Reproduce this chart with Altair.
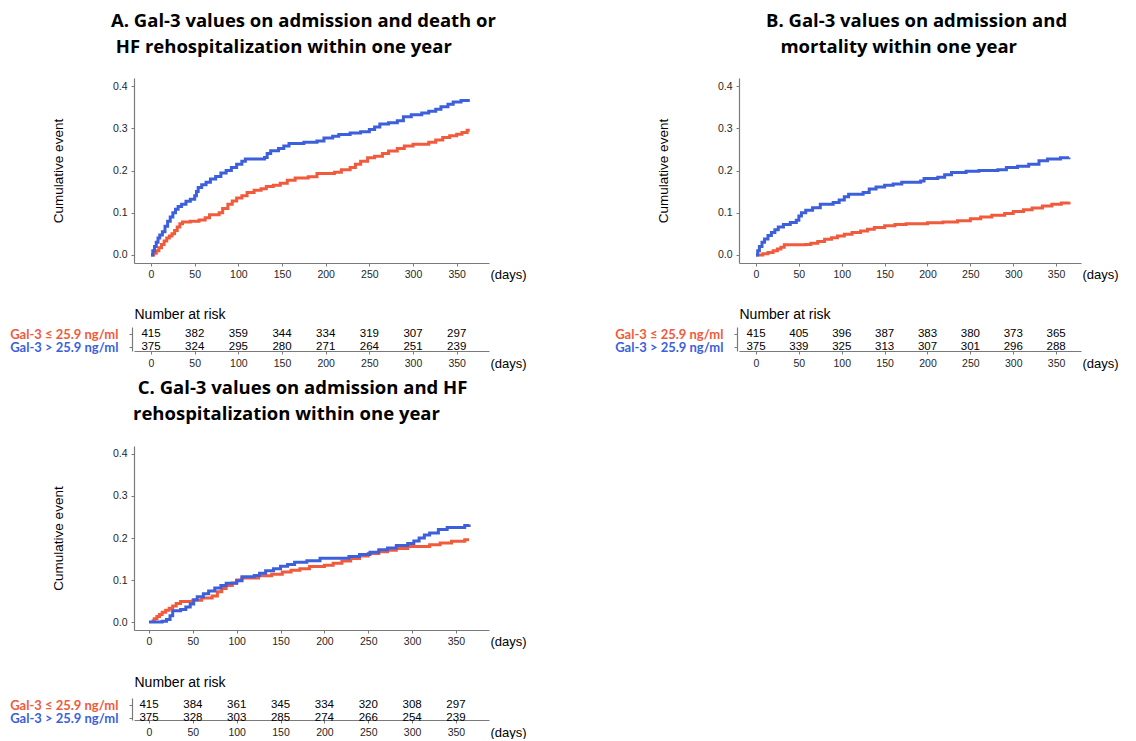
import altair as alt
import pandas as pd

LOW = "Gal-3 ≤ 25.9 ng/ml"
HIGH = "Gal-3 > 25.9 ng/ml"
RED = "#F25A3C"
BLUE = "#3C5FDB"
AX = "#7a7a7a"
SANS = "Liberation Sans"
LFONT = "Lato"
TFONT = "Open Sans"
IND = "\u200b\u00a0"  # indent that survives trimming

RISK_DAYS = [0, 50, 100, 150, 200, 250, 300, 350]
Y_TICKS = [0.0, 0.1, 0.2, 0.3, 0.4]

# ---------------- Panel A ----------------
A_TITLE = ["A. Gal-3 values on admission and death or",
           IND + "HF rehospitalization within one year"]
A_LOW_DAYS = [0, 3, 6, 9, 12, 15, 18, 21, 24, 27, 30, 33, 36, 45, 55, 62, 67, 78, 82, 88, 93, 98,
              104, 110, 118, 126, 132, 140, 148, 156, 165, 180, 190, 210, 218, 228, 234, 240, 248,
              256, 265, 272, 282, 290, 300, 318, 326, 334, 342, 350, 356, 362, 365]
A_LOW_CUM = [0, 0.004, 0.01, 0.017, 0.025, 0.033, 0.04, 0.045, 0.05, 0.058, 0.066, 0.074, 0.078,
             0.08, 0.083, 0.088, 0.095, 0.1, 0.11, 0.12, 0.128, 0.135, 0.14, 0.148, 0.153, 0.157,
             0.162, 0.165, 0.17, 0.177, 0.182, 0.185, 0.193, 0.196, 0.202, 0.207, 0.215, 0.222,
             0.23, 0.234, 0.24, 0.246, 0.252, 0.258, 0.262, 0.267, 0.272, 0.278, 0.282, 0.286,
             0.29, 0.295, 0.295]
A_HIGH_DAYS = [0, 2, 4, 6, 8, 10, 13, 16, 19, 22, 25, 28, 31, 35, 40, 45, 50, 52, 54, 58, 63, 68,
               74, 80, 86, 92, 98, 104, 108, 130, 133, 137, 146, 152, 158, 175, 190, 198, 208, 215,
               228, 240, 250, 256, 262, 272, 282, 289, 298, 310, 318, 326, 332, 340, 346, 355, 365]
A_HIGH_CUM = [0, 0.01, 0.02, 0.03, 0.04, 0.047, 0.055, 0.068, 0.08, 0.09, 0.1, 0.108, 0.115, 0.12,
              0.127, 0.132, 0.14, 0.15, 0.16, 0.166, 0.172, 0.18, 0.186, 0.194, 0.2, 0.207, 0.215,
              0.222, 0.227, 0.231, 0.24, 0.247, 0.252, 0.258, 0.264, 0.267, 0.27, 0.277, 0.281,
              0.285, 0.289, 0.292, 0.297, 0.303, 0.31, 0.313, 0.318, 0.327, 0.332, 0.336, 0.34,
              0.345, 0.351, 0.357, 0.362, 0.366, 0.366]
A_RISK_LOW = [415, 382, 359, 344, 334, 319, 307, 297]
A_RISK_HIGH = [375, 324, 295, 280, 271, 264, 251, 239]

# ---------------- Panel B ----------------
B_TITLE = ["B. Gal-3 values on admission and",
           IND + "\u00a0\u00a0mortality within one year"]
B_LOW_DAYS = [0, 8, 14, 20, 25, 29, 33, 58, 64, 72, 80, 88, 95, 103, 112, 122, 130, 138, 150, 162,
              175, 200, 218, 235, 250, 262, 275, 290, 300, 312, 322, 334, 345, 356, 365]
B_LOW_CUM = [0, 0.003, 0.006, 0.01, 0.014, 0.018, 0.024, 0.025, 0.028, 0.032, 0.037, 0.041, 0.045,
             0.049, 0.053, 0.057, 0.061, 0.065, 0.069, 0.072, 0.074, 0.076, 0.078, 0.081, 0.086,
             0.09, 0.094, 0.098, 0.103, 0.107, 0.111, 0.116, 0.12, 0.123, 0.126]
B_HIGH_DAYS = [0, 2, 4, 7, 10, 14, 18, 22, 26, 32, 40, 47, 50, 53, 58, 66, 75, 90, 97, 103, 108,
               125, 132, 140, 150, 160, 170, 192, 196, 212, 220, 228, 245, 260, 282, 292, 305, 318,
               330, 340, 355, 365]
B_HIGH_CUM = [0, 0.01, 0.02, 0.03, 0.038, 0.046, 0.053, 0.06, 0.066, 0.072, 0.077, 0.082, 0.092,
              0.1, 0.106, 0.112, 0.12, 0.124, 0.13, 0.138, 0.144, 0.148, 0.156, 0.161, 0.165,
              0.168, 0.172, 0.175, 0.181, 0.184, 0.19, 0.195, 0.198, 0.2, 0.202, 0.207, 0.21,
              0.215, 0.223, 0.227, 0.23, 0.231]
B_RISK_LOW = [415, 405, 396, 387, 383, 380, 373, 365]
B_RISK_HIGH = [375, 339, 325, 313, 307, 301, 296, 288]

# ---------------- Panel C ----------------
C_TITLE = [IND + "C. Gal-3 values on admission and HF",
           "rehospitalization within one year"]
C_LOW_DAYS = [3, 6, 9, 12, 15, 19, 23, 27, 31, 36, 50, 60, 72, 78, 83, 88, 95, 100, 106, 125, 140,
              152, 162, 172, 183, 200, 210, 220, 230, 240, 250, 262, 272, 282, 295, 320, 332, 345,
              360, 365]
C_LOW_CUM = [0.003, 0.008, 0.013, 0.018, 0.023, 0.028, 0.033, 0.038, 0.044, 0.049, 0.052, 0.057,
             0.062, 0.072, 0.08, 0.087, 0.093, 0.1, 0.105, 0.11, 0.114, 0.119, 0.123, 0.127, 0.132,
             0.135, 0.14, 0.145, 0.151, 0.157, 0.163, 0.167, 0.171, 0.175, 0.18, 0.184, 0.188,
             0.192, 0.196, 0.196]
C_HIGH_DAYS = [0, 15, 20, 24, 27, 36, 42, 47, 51, 55, 62, 68, 75, 82, 88, 100, 106, 120, 126, 133,
               142, 150, 158, 166, 180, 195, 228, 240, 252, 262, 272, 282, 295, 302, 308, 314, 320,
               330, 340, 360, 365]
C_HIGH_CUM = [0, 0.002, 0.006, 0.015, 0.027, 0.03, 0.036, 0.043, 0.053, 0.06, 0.067, 0.074, 0.081,
              0.087, 0.092, 0.098, 0.108, 0.111, 0.116, 0.122, 0.127, 0.133, 0.137, 0.142, 0.146,
              0.152, 0.156, 0.161, 0.166, 0.172, 0.176, 0.182, 0.187, 0.193, 0.2, 0.207, 0.212,
              0.22, 0.225, 0.23, 0.232]
C_RISK_LOW = [415, 384, 361, 345, 334, 320, 308, 297]
C_RISK_HIGH = [375, 328, 303, 285, 274, 266, 254, 239]

Y_DOMAIN = [-0.019, 0.419]


def panel(title, tdx, toff, low_d, low_c, high_d, high_c, r_low, r_high,
          width, height, xdom, risk_top, risk_bottom, row1, row2, nar_y):
    km_df = pd.DataFrame({"day": low_d + high_d,
                          "cum": low_c + high_c,
                          "grp": [LOW] * len(low_d) + [HIGH] * len(high_d)})
    risk_df = pd.DataFrame({"day": RISK_DAYS * 2,
                            "n": r_low + r_high,
                            "grp": [LOW] * len(r_low) + [HIGH] * len(r_high)})

    x_axis = alt.Axis(values=RISK_DAYS, title="(days)", titleX=width + 1, titleY=11,
                      titleAngle=0, titleAlign="left", titleBaseline="middle",
                      titleFontSize=13, tickSize=3, labelPadding=3, labelFlush=False)
    y_axis = alt.Axis(values=Y_TICKS, format=".1f", title="Cumulative event",
                      titleX=-76, titleY=height / 2, titleAngle=-90, titleAlign="center",
                      titleBaseline="middle", titleFontSize=13.5, tickSize=3, labelPadding=4)
    x_enc = alt.X("day:Q", scale=alt.Scale(domain=xdom, nice=False, zero=False), axis=x_axis)
    y_enc = alt.Y("cum:Q", scale=alt.Scale(domain=Y_DOMAIN, nice=False, zero=False), axis=y_axis)

    base = alt.Chart(km_df)
    low_line = base.transform_filter(alt.datum.grp == LOW).mark_line(
        interpolate="step-after", color=RED, strokeWidth=3).encode(x=x_enc, y=y_enc)
    high_line = base.transform_filter(alt.datum.grp == HIGH).mark_line(
        interpolate="step-after", color=BLUE, strokeWidth=3).encode(x=x_enc, y=y_enc)
    km = alt.layer(low_line, high_line)

    span = risk_bottom - risk_top
    step = row2 - row1
    pad = (span / step - 1) / 2
    align = (row1 - risk_top) / (span - step)

    rx_axis = alt.Axis(orient="bottom", offset=risk_bottom - height, values=RISK_DAYS,
                       title="(days)", titleX=width + 1, titleY=12, titleAngle=0,
                       titleAlign="left", titleBaseline="middle", titleFontSize=13,
                       tickSize=3, labelPadding=4, labelFlush=False)
    ry_axis = alt.Axis(orient="left", offset=2, tickSize=3, labelPadding=11,
                       labelFont=LFONT, labelFontWeight="bold", labelFontSize=13,
                       labelColor={"condition": {"test": f"datum.value === '{LOW}'", "value": RED},
                                   "value": BLUE},
                       labelLimit=300,
                       title="Number at risk", titleX=2, titleY=nar_y, titleAngle=0,
                       titleAlign="left", titleBaseline="alphabetic", titleFontSize=14,
                       titleColor="black")
    risk = alt.Chart(risk_df).mark_text(font=SANS, fontSize=11.5, color="black").encode(
        x=alt.X("day:Q", scale=alt.Scale(domain=xdom, nice=False, zero=False), axis=rx_axis),
        y=alt.Y("grp:N", sort=[LOW, HIGH],
                scale=alt.Scale(type="point", range=[risk_top, risk_bottom],
                                padding=pad, align=align),
                axis=ry_axis),
        text="n:Q")

    return alt.layer(km, risk).resolve_scale(x="independent", y="independent").resolve_axis(
        x="independent", y="independent").properties(
        width=width, height=height,
        title=alt.TitleParams(text=title, anchor="start", frame="group", dx=tdx, offset=toff,
                              baseline="alphabetic", font=TFONT, fontSize=18.5,
                              fontWeight="bold", lineHeight=26, color="black"))


pA = panel(A_TITLE, -23, 7, A_LOW_DAYS, A_LOW_CUM, A_HIGH_DAYS, A_HIGH_CUM, A_RISK_LOW,
           A_RISK_HIGH, 355, 185, [-19.5, 387], 249, 273, 256, 269, 240)
pB = panel(B_TITLE, 27, 7, B_LOW_DAYS, B_LOW_CUM, B_HIGH_DAYS, B_HIGH_CUM, B_RISK_LOW,
           B_RISK_HIGH, 342, 185, [-19.8, 379], 249, 273, 256, 269, 240)
pC = panel(C_TITLE, -1, 8, C_LOW_DAYS, C_LOW_CUM, C_HIGH_DAYS, C_HIGH_CUM, C_RISK_LOW,
           C_RISK_HIGH, 355, 184, [-17.1, 387.7], 252, 274, 259, 272, 240)

chart = alt.vconcat(alt.hconcat(pA, pB, spacing=87), pC, spacing=8).properties(
    padding={"left": 1, "top": 3, "right": 0, "bottom": 0}
).configure_view(stroke=None).configure_axis(
    grid=False, domainColor=AX, domainWidth=1.2, tickColor=AX, labelColor="#262626",
    labelFont=SANS, labelFontSize=10.5, titleFont=SANS, titleFontWeight="normal",
    titleColor="black"
)

chart.save("out.html", embed_options={"renderer": "svg", "actions": False})
